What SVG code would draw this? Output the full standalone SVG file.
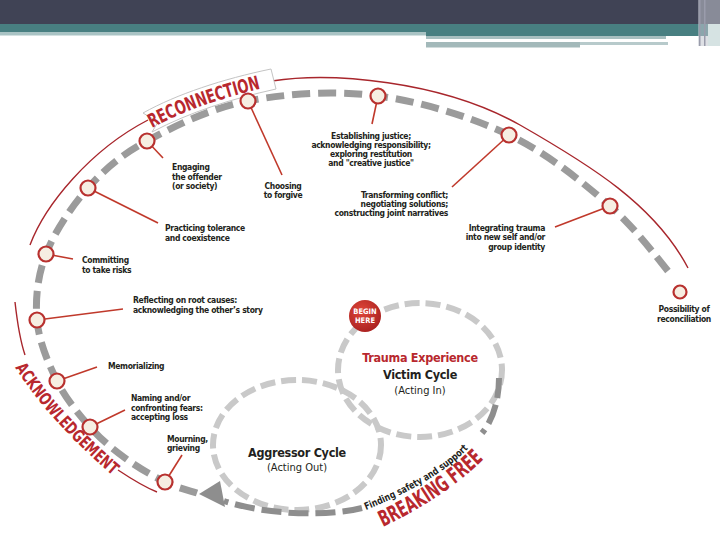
<svg xmlns="http://www.w3.org/2000/svg" width="720" height="540" viewBox="0 0 720 540">
<defs>
<style>
.lb{font-family:"Liberation Sans Narrow","Arial Narrow","DejaVu Sans Condensed",sans-serif;font-weight:bold;font-size:8.5px;letter-spacing:-0.35px;fill:#231f20}
.fs{font-family:"Liberation Sans Narrow","Arial Narrow","DejaVu Sans Condensed",sans-serif;font-weight:bold;font-size:10px;fill:#231f20}
.big{font-family:"Liberation Sans Narrow","Arial Narrow","DejaVu Sans Condensed",sans-serif;font-weight:bold;font-size:12.5px;letter-spacing:-0.3px;fill:#231f20;text-anchor:middle}
.sub{font-family:"Liberation Sans Narrow","Arial Narrow","DejaVu Sans Condensed",sans-serif;font-size:11px;fill:#231f20;text-anchor:middle}
.red{fill:#b8282e}
.ban{font-family:"Liberation Sans Narrow","Arial Narrow","DejaVu Sans Condensed",sans-serif;font-weight:bold;fill:#b8282e}
.node{fill:#f6eee2;stroke:#b8312f;stroke-width:2.2}
.lead{stroke:#c0392b;stroke-width:1.6;fill:none}
.rarc{stroke:#a8262c;stroke-width:1.4;fill:none}
.main{stroke:#9b9b9b;stroke-width:7;fill:none;stroke-dasharray:18 8}
.cyc{stroke:#c9c9c9;stroke-width:6;fill:none;stroke-dasharray:15 6}
.bf{stroke:#8e8e8e;stroke-width:6;fill:none;stroke-dasharray:20 7}
.mid{text-anchor:middle}
.end{text-anchor:end}
</style>
<path id="pRecon" d="M152,128 C185,110 225,97 268,87"/>
<path id="pAck" d="M14,366 C32,394 60,430 112,475"/>
<path id="pBreak" d="M383,527 C415,512 455,488 486,457"/>
<path id="pFind" d="M366,510 C400,496 448,474 476,440"/>
<radialGradient id="gBegin" cx="0.4" cy="0.35" r="0.7">
<stop offset="0" stop-color="#e0473a"/>
<stop offset="1" stop-color="#a8201f"/>
</radialGradient>
</defs>
<rect width="720" height="540" fill="#ffffff"/>
<g id="header">
<rect x="0" y="0" width="720" height="24" fill="#404355"/>
<rect x="0" y="24" width="720" height="8" fill="#487f81"/>
<rect x="0" y="32" width="426" height="3.5" fill="#a9c3c4"/>
<rect x="426" y="32" width="294" height="4" fill="#487f81"/>
<rect x="426" y="36" width="240" height="3" fill="#a8bfc0"/>
<rect x="426" y="42" width="154" height="5.5" fill="#a3b9ba"/>
<rect x="580" y="42" width="88" height="3" fill="#b7cacb"/>
<rect x="698" y="0" width="22" height="46" fill="#c3c6cf" opacity="0.55"/>
<rect x="699" y="0" width="1.5" height="46" fill="#9a9cab"/>
<rect x="704" y="0" width="1.5" height="46" fill="#9a9cab"/>
<rect x="708" y="24" width="12" height="22" fill="#d6e3e3"/>
</g>
<g id="connectors">
<path class="rarc" d="M30,245 C45,205 90,150 148,120"/>
<path class="rarc" d="M272,81 C330,72 440,80 520,125 C590,165 655,205 688,268"/>
<path class="rarc" d="M15,302 C17,320 20,340 25,355"/>
<path class="rarc" d="M118,470 C130,478 142,486 157,492"/>
<path class="main" d="M197,493 C191.7,491.2 177,487.8 165,482 C153,476.2 137.5,467.2 125,458 C112.5,448.8 101.3,439.8 90,427 C78.7,414.2 65.8,398.8 57,381 C48.2,363.2 38.8,341.2 37,320 C35.2,298.8 37.5,276 46,254 C54.5,232 71.2,206.8 88,188 C104.8,169.2 120.3,155.5 147,141 C173.7,126.5 209.5,108.5 248,101 C286.5,93.5 334.5,90.3 378,96 C421.5,101.7 470.3,116.7 509,135 C547.7,153.3 582.7,182.3 610,206 C637.3,229.7 662.5,265.2 673,277"/>
<ellipse class="cyc" cx="297" cy="445" rx="84" ry="65"/>
<ellipse class="cyc" cx="420" cy="370" rx="82" ry="67"/>
<path class="bf" d="M499,378 C499,400 493,420 482,433"/>
<path class="bf" d="M362,508 C330,516 270,516 224,501"/>
<polygon points="199,494 220,481 225,507" fill="#8e8e8e"/>
<line class="lead" x1="147" y1="141" x2="163" y2="158"/>
<line class="lead" x1="248" y1="101" x2="282" y2="175"/>
<line class="lead" x1="378" y1="96" x2="372" y2="124"/>
<line class="lead" x1="509" y1="135" x2="452" y2="187"/>
<line class="lead" x1="610" y1="206" x2="555" y2="227"/>
<line class="lead" x1="88" y1="188" x2="158" y2="223"/>
<line class="lead" x1="46" y1="254" x2="73" y2="259"/>
<line class="lead" x1="37" y1="320" x2="123" y2="309"/>
<line class="lead" x1="57" y1="381" x2="97" y2="367"/>
<line class="lead" x1="90" y1="427" x2="125" y2="410"/>
<line class="lead" x1="165" y1="482" x2="182" y2="455"/>
</g>
<g id="banner-reconnection">
<path d="M143,113 C177,94 223,79 271,69 L276,89 C231,99 190,112 152,132 L158,122 Z" fill="#ffffff" stroke="#c4c4c4" stroke-width="1"/>
<text class="ban" font-size="19"><textPath href="#pRecon" textLength="116" lengthAdjust="spacingAndGlyphs">RECONNECTION</textPath></text>
</g>
<g id="label-acknowledgement">
<text class="ban" font-size="17"><textPath href="#pAck" startOffset="2" textLength="146" lengthAdjust="spacingAndGlyphs">ACKNOWLEDGEMENT</textPath></text>
</g>
<g id="label-breaking-free">
<text class="ban" font-size="22"><textPath href="#pBreak" textLength="122" lengthAdjust="spacingAndGlyphs">BREAKING FREE</textPath></text>
<text class="fs"><textPath href="#pFind" textLength="120" lengthAdjust="spacingAndGlyphs">Finding safety and support</textPath></text>
</g>
<g id="node-engaging">
<circle class="node" cx="147" cy="141" r="7.5"/>
<text class="lb" x="172" y="170">Engaging</text>
<text class="lb" x="172" y="179.5">the offender</text>
<text class="lb" x="172" y="189">(or society)</text>
</g>
<g id="node-choosing">
<circle class="node" cx="248" cy="101" r="7.5"/>
<text class="lb mid" x="283" y="189">Choosing</text>
<text class="lb mid" x="283" y="198">to forgive</text>
</g>
<g id="node-establishing">
<circle class="node" cx="378" cy="96" r="7.5"/>
<text class="lb mid" x="371" y="139">Establishing justice;</text>
<text class="lb mid" x="371" y="148">acknowledging responsibility;</text>
<text class="lb mid" x="371" y="157">exploring restitution</text>
<text class="lb mid" x="371" y="166">and "creative justice"</text>
</g>
<g id="node-transforming">
<circle class="node" cx="509" cy="135" r="7.5"/>
<text class="lb end" x="448" y="198">Transforming conflict;</text>
<text class="lb end" x="448" y="207">negotiating solutions;</text>
<text class="lb end" x="448" y="216">constructing joint narratives</text>
</g>
<g id="node-integrating">
<circle class="node" cx="610" cy="206" r="7.5"/>
<text class="lb end" x="545" y="231">Integrating trauma</text>
<text class="lb end" x="545" y="240">into new self and/or</text>
<text class="lb end" x="545" y="250">group identity</text>
</g>
<g id="node-possibility">
<circle class="node" cx="680" cy="292" r="6.5"/>
<text class="lb mid" x="684" y="312">Possibility of</text>
<text class="lb mid" x="684" y="322">reconciliation</text>
</g>
<g id="node-practicing">
<circle class="node" cx="88" cy="188" r="7.5"/>
<text class="lb" x="165" y="231">Practicing tolerance</text>
<text class="lb" x="165" y="241">and coexistence</text>
</g>
<g id="node-committing">
<circle class="node" cx="46" cy="254" r="7.5"/>
<text class="lb" x="82" y="263">Committing</text>
<text class="lb" x="82" y="273">to take risks</text>
</g>
<g id="node-reflecting">
<circle class="node" cx="37" cy="320" r="7.5"/>
<text class="lb" x="133" y="303">Reflecting on root causes:</text>
<text class="lb" x="133" y="313">acknowledging the other’s story</text>
</g>
<g id="node-memorializing">
<circle class="node" cx="57" cy="381" r="7.5"/>
<text class="lb" x="108" y="369">Memorializing</text>
</g>
<g id="node-naming">
<circle class="node" cx="90" cy="427" r="7.5"/>
<text class="lb" x="131" y="401">Naming and/or</text>
<text class="lb" x="131" y="410.5">confronting fears:</text>
<text class="lb" x="131" y="420">accepting loss</text>
</g>
<g id="node-mourning">
<circle class="node" cx="165" cy="482" r="7.5"/>
<text class="lb" x="167" y="442">Mourning,</text>
<text class="lb" x="167" y="451">grieving</text>
</g>
<g id="node-victim-cycle">
<text class="big red" x="420" y="362">Trauma Experience</text>
<text class="big" x="420" y="379">Victim Cycle</text>
<text class="sub" x="420" y="394">(Acting In)</text>
</g>
<g id="node-aggressor-cycle">
<text class="big" x="297" y="457">Aggressor Cycle</text>
<text class="sub" x="297" y="471">(Acting Out)</text>
</g>
<g id="node-begin-here">
<circle cx="365" cy="316" r="16" fill="url(#gBegin)"/>
<text class="big" x="365" y="314" style="font-size:7.5px;letter-spacing:0;fill:#ffffff">BEGIN</text>
<text class="big" x="365" y="323" style="font-size:7.5px;letter-spacing:0;fill:#ffffff">HERE</text>
</g>
</svg>
